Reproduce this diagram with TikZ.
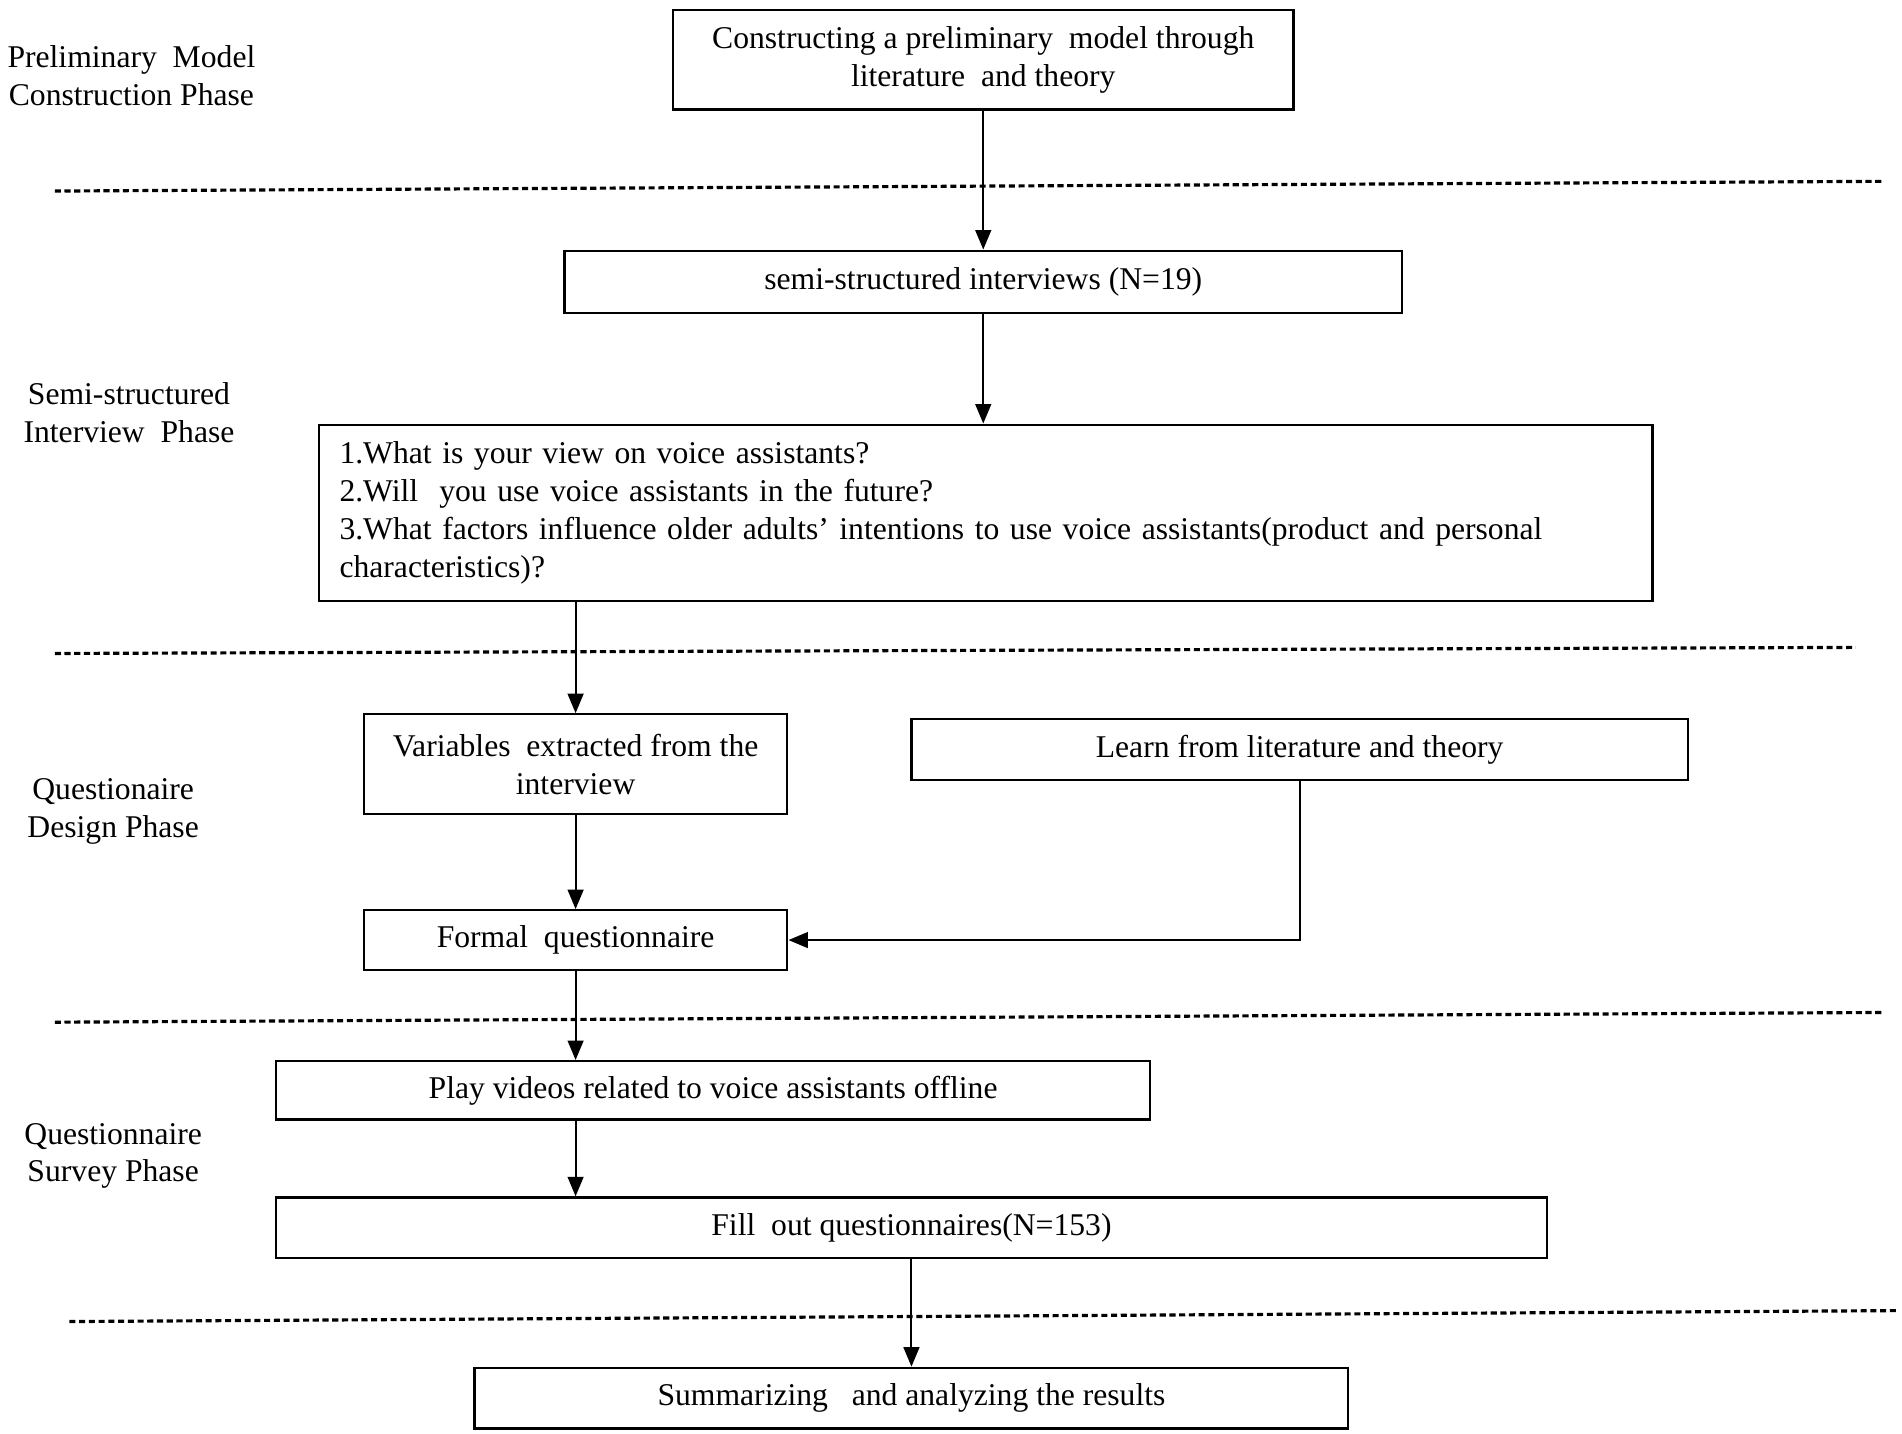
\documentclass[tikz,border=0pt]{standalone}
\usepackage{fontspec}
\setmainfont{Liberation Serif}
\usetikzlibrary{arrows.meta}
\tikzset{
  box/.style={draw=black, line width=1.9pt, rectangle, inner sep=0pt, align=center,
    font=\fontsize{26}{31}\selectfont},
  phase/.style={inner sep=0pt, align=center, font=\fontsize{26}{31}\selectfont},
  flow/.style={draw=black, line width=1.6pt, -{Triangle[length=16pt,width=13pt]}},
  sep/.style={draw=black, line width=2.6pt, dash pattern=on 5pt off 3pt},
}
\begin{document}
\begin{tikzpicture}[x=1pt, y=-1pt]
\useasboundingbox (0,0) rectangle (1563,1178);
% phase labels
\node[phase] (l1) at (108,62) {Preliminary~~Model\\Construction Phase};
\node[phase] (l2) at (106,339) {Semi-structured\\Interview~~Phase};
\node[phase] (l3) at (93,667) {Questionaire\\Design Phase};
\node[phase] (l4) at (93,950) {Questionnaire\\Survey Phase};
% boxes
\node[box, minimum width=510pt, minimum height=82pt] (b1) at (808,49)
  {Constructing a preliminary~~model through\\literature~ and theory};
\node[box, minimum width=688pt, minimum height=51pt] (b2) at (808,231.5)
  {semi-structured interviews (N=19)};
\node[box, minimum width=1096pt, minimum height=145pt, text width=1062pt, align=left] (b3) at (810,421.5)
  {1.What is your view on voice assistants?\\
   2.Will~ you use voice assistants in the future?\\
   3.What factors influence older adults' intentions to use voice assistants(product and personal\\
   characteristics)?};
\node[box, minimum width=348pt, minimum height=82pt] (b4) at (473,628)
  {Variables~ extracted from the\\interview};
\node[box, minimum width=638pt, minimum height=50pt] (b5) at (1068,616)
  {Learn from literature and theory};
\node[box, minimum width=348pt, minimum height=49pt] (b6) at (473,772.5)
  {Formal~ questionnaire};
\node[box, minimum width=718pt, minimum height=48pt] (b7) at (586,896)
  {Play videos related to voice assistants offline};
\node[box, minimum width=1044pt, minimum height=50pt] (b8) at (749,1009)
  {Fill~ out questionnaires(N=153)};
\node[box, minimum width=718pt, minimum height=50pt] (b9) at (749,1149)
  {Summarizing~~ and analyzing the results};
% dashed separators
\coordinate (s1a) at (45,157);  \coordinate (s1b) at (1548,149);
\coordinate (s2a) at (45,537);  \coordinate (s2b) at (1525,532);
\coordinate (s3a) at (45,840);  \coordinate (s3b) at (1548,832);
\coordinate (s4a) at (57,1086); \coordinate (s4b) at (1560,1077);
\draw[sep] (s1a) -- (s1b);
\draw[sep] (s2a) -- (s2b);
\draw[sep] (s3a) -- (s3b);
\draw[sep] (s4a) -- (s4b);
% connectors
\draw[flow] (b1.south) -- (b2.north);
\draw[flow] (b2.south) -- (b3.north -| b2.south);
\draw[flow] (b3.south -| b4.north) -- (b4.north);
\draw[flow] (b4.south) -- (b6.north);
\draw[flow] (b5.south) -- (b5.south |- b6.east) -- (b6.east);
\draw[flow] (b6.south) -- (b6.south |- b7.north);
\draw[flow] (b6.south |- b7.south) -- (b6.south |- b8.north);
\draw[flow] (b8.south) -- (b9.north);
\end{tikzpicture}
\end{document}
